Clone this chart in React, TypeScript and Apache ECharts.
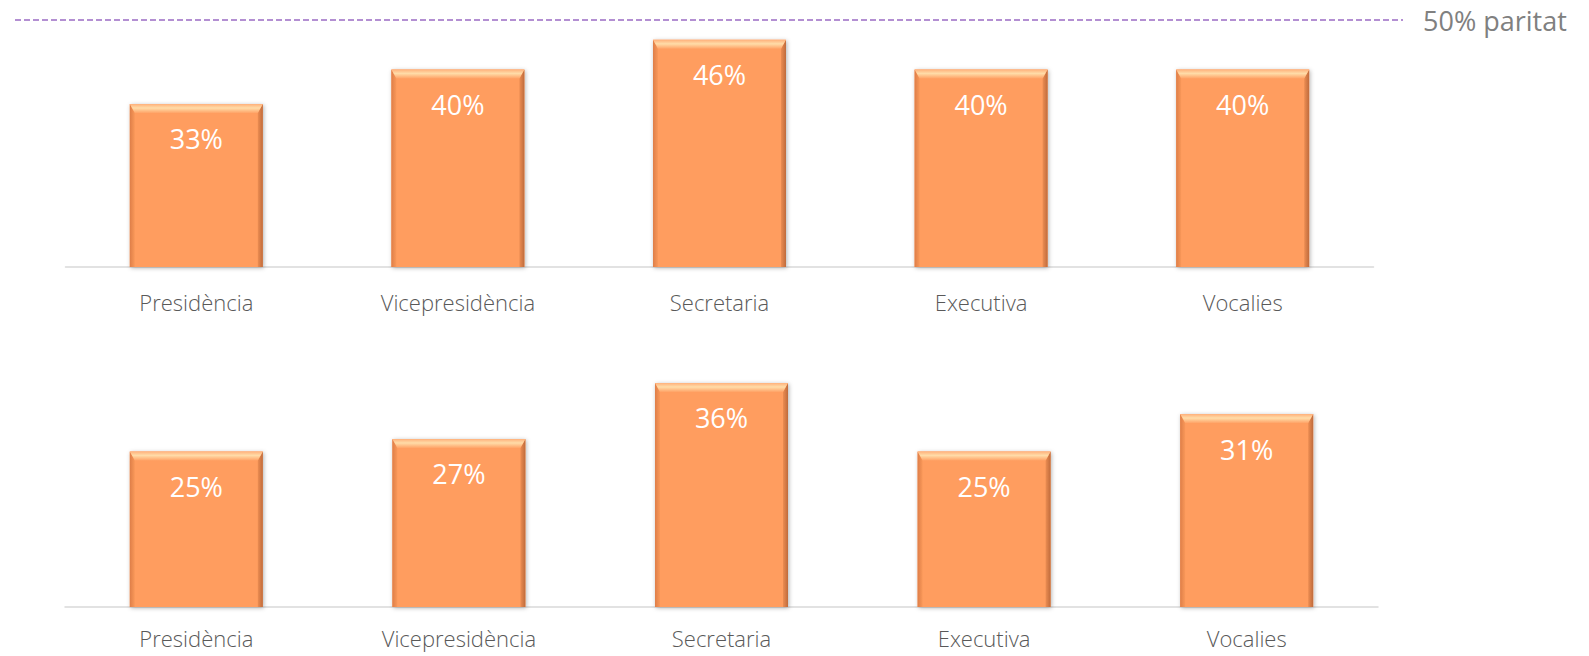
import React, { useEffect, useRef } from "react";
import * as echarts from "echarts";

const categories = ["Presidència", "Vicepresidència", "Secretaria", "Executiva", "Vocalies"];
const topValues = [33, 40, 46, 40, 40];
const bottomValues = [25, 27, 36, 25, 31];
const PARITY = 50;
const parityLabel = "50% paritat";

const BAR_W = 133;

function barRender(params: any, api: any) {
  const v = api.value(1);
  const top = api.coord([api.value(0), v]);
  const base = api.coord([api.value(0), 0]);
  const x0 = top[0] - BAR_W / 2;
  const x1 = top[0] + BAR_W / 2;
  const y0 = top[1];
  const y1 = base[1];
  const s = 5;
  const t = 9;
  const G = echarts.graphic.LinearGradient;
  return {
    type: "group",
    children: [
      {
        type: "rect",
        shape: { x: x0, y: y0, width: BAR_W, height: y1 - y0 },
        style: {
          fill: "#FF9D5E",
          shadowBlur: 4,
          shadowColor: "rgba(0,0,0,0.3)",
          shadowOffsetX: 1,
          shadowOffsetY: 1,
        },
      },
      {
        type: "polygon",
        shape: { points: [[x0, y0], [x0 + s, y0 + t], [x0 + s, y1], [x0, y1]] },
        style: {
          fill: new G(0, 0, 1, 0, [
            { offset: 0, color: "#DE7E48" },
            { offset: 1, color: "#F99859" },
          ]),
        },
      },
      {
        type: "polygon",
        shape: { points: [[x1, y0], [x1 - s, y0 + t], [x1 - s, y1], [x1, y1]] },
        style: {
          fill: new G(0, 0, 1, 0, [
            { offset: 0, color: "#EC8D52" },
            { offset: 1, color: "#BF6B3C" },
          ]),
        },
      },
      {
        type: "polygon",
        shape: { points: [[x0, y0], [x1, y0], [x1 - s, y0 + t], [x0 + s, y0 + t]] },
        style: {
          fill: new G(0, 0, 0, 1, [
            { offset: 0, color: "#FFB07A" },
            { offset: 0.45, color: "#FFDCA8" },
            { offset: 1, color: "#FFA468" },
          ]),
        },
      },
      {
        type: "text",
        style: {
          text: v + "%",
          x: top[0],
          y: y0 + 35,
          align: "center",
          verticalAlign: "middle",
          fill: "#ffffff",
          fontSize: 27,
          fontFamily: "Open Sans",
          fontWeight: 400,
        },
      },
    ],
  };
}

export default function App() {
  const ref = useRef<HTMLDivElement>(null);
  useEffect(() => {
    if (!ref.current) return;
    const chart = echarts.init(ref.current, undefined, { renderer: "svg" });
    const xAxisBase = (gridIndex: number, margin: number) => ({
      type: "category",
      gridIndex,
      data: categories,
      axisTick: { show: false },
      axisLine: { lineStyle: { color: "#D9D9D9", width: 1.5 } },
      axisLabel: {
        margin,
        color: "#595959",
        fontSize: 22,
        lineHeight: 20,
        fontFamily: "Open Sans",
        fontWeight: 300,
        interval: 0,
      },
    });
    chart.setOption({
      animation: false,
      grid: [
        { left: 65.5, width: 1308, top: 20, height: 247 },
        { left: 65, width: 1313, top: 358, height: 249 },
      ],
      xAxis: [xAxisBase(0, 25), xAxisBase(1, 21)],
      yAxis: [
        { type: "value", gridIndex: 0, min: 0, max: 50, show: false, splitLine: { show: false } },
        { type: "value", gridIndex: 1, min: 0, max: 40, show: false, splitLine: { show: false } },
      ],
      series: [
        {
          type: "custom",
          xAxisIndex: 0,
          yAxisIndex: 0,
          renderItem: barRender,
          data: topValues.map((v, i) => [i, v]),
        },
        {
          type: "custom",
          xAxisIndex: 1,
          yAxisIndex: 1,
          renderItem: barRender,
          data: bottomValues.map((v, i) => [i, v]),
        },
      ],
    });
    const py = chart.convertToPixel({ yAxisIndex: 0 }, PARITY) as number;
    chart.setOption({
      graphic: [
        {
          type: "line",
          shape: { x1: 15, y1: py, x2: 1403, y2: py },
          style: { stroke: "#9B6BC4", lineWidth: 1.5, lineDash: [6, 3] },
        },
        {
          type: "text",
          x: 1423,
          y: py,
          style: {
            text: parityLabel,
            fill: "#808080",
            fontSize: 27,
            fontFamily: "Open Sans",
            align: "left",
            verticalAlign: "middle",
          },
        },
      ],
    });
    return () => chart.dispose();
  }, []);
  return (
    <div
      ref={ref}
      style={{ position: "absolute", left: 0, top: 0, width: 1589, height: 656 }}
    />
  );
}
